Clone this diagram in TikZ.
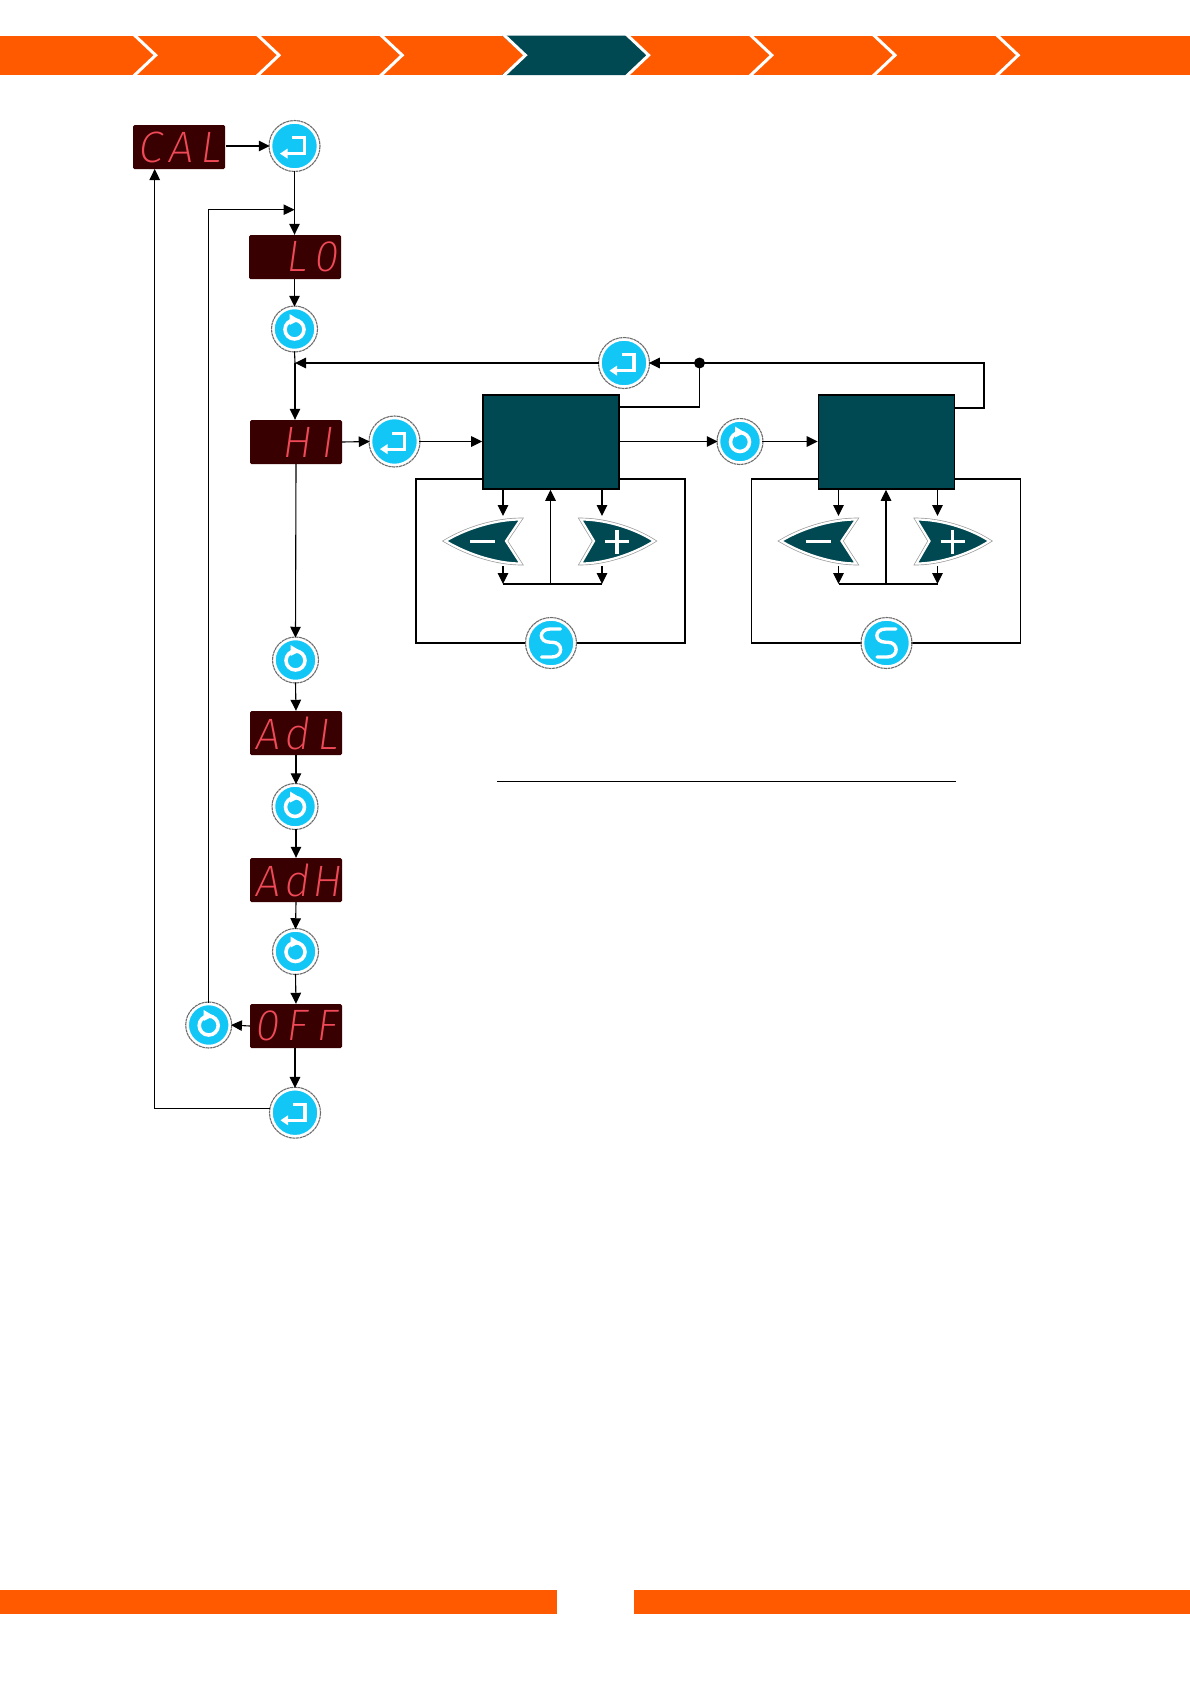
\documentclass[tikz,border=0pt]{standalone}
\usepackage{fontspec}
\usetikzlibrary{arrows.meta}
\newfontfamily\segfont[FakeSlant=0.14]{Fira Sans ExtraLight}
\definecolor{orangeband}{HTML}{FF5A00}
\definecolor{teal}{HTML}{004852}
\definecolor{dispbg}{HTML}{380000}
\definecolor{segred}{HTML}{F04A58}
\definecolor{btn}{HTML}{12C6F6}
\pgfdeclarelayer{back}
\pgfsetlayers{back,main}
\newcommand\slots[3]{\hspace*{1pt}\makebox[30pt]{#1}\makebox[30pt]{#2}\makebox[30pt]{#3}}
\tikzset{
  disp/.style={rectangle,rounded corners=1.5pt,fill=dispbg,minimum width=92pt,minimum height=44pt,inner sep=0pt,text=segred,font=\segfont\fontsize{44}{44}\selectfont},
  flow/.style={line width=1.1pt,-{Triangle[length=11pt,width=10.5pt]}},
  plain/.style={line width=1.1pt},
  btnbase/.style={circle,fill=btn,draw=white,line width=2.5pt,inner sep=0pt},
  enterbtn/.style={btnbase,minimum size=47pt},
  rotbtn/.style={btnbase,minimum size=42pt},
  sbtn/.style={btnbase,minimum size=47pt},
  stagebox/.style={rectangle,fill=teal,draw=black,line width=1.6pt,minimum width=136pt,minimum height=94pt,inner sep=0pt},
  chev/.style={draw=white,line width=3pt},
  ringline/.style={draw=gray!85!black,line width=1.1pt,dash pattern=on 3pt off 0.6pt},
  entericon/.pic={
    \draw[white,line width=3.2pt] (-2.5,-8.3) -- (10,-8.3) -- (10,7.6) -- (-8,7.6);
    \fill[white] (-14.5,7.6) -- (-7,2.6) -- (-7,12.6) -- cycle;
  },
  roticon/.pic={
    \draw[white,line width=3.6pt] (0,0.5) circle[radius=9.5];
    \fill[white] (-5,-15) -- (5,-9) -- (-5,-4) -- cycle;
  },
  sicon/.pic={
    \draw[white,line width=3.4pt,line cap=round] (9.5,-14) -- (-1,-14) .. controls (-12.5,-14) and (-12.5,-0.8) .. (-1,-0.8) -- (1,-0.8) .. controls (12.5,-0.8) and (12.5,14) .. (1,14) -- (-9.5,14);
  }
}
\newcommand\stage[2]{%
\begin{scope}[shift={(#2,0)}]
  \node[stagebox] (b#1) at (551,442) {};
  \node[sbtn] (s#1) at (551,643) {};
  \coordinate (f#1a) at (416,479);
  \coordinate (f#1b) at (685,479);
  \coordinate (mt#1) at (503,516);
  \coordinate (mb#1) at (503,566);
  \coordinate (pt#1) at (602,516);
  \coordinate (pb#1) at (602,566);
  \coordinate (mj#1) at (503,584);
  \coordinate (pj#1) at (602,584);
  \coordinate (cj#1) at (550.5,584);
  \begin{pgfonlayer}{back}
    \draw[plain] (s#1.west) -| (f#1a) -- (f#1b) |- (s#1.east);
  \end{pgfonlayer}
  \foreach \lw/\c in {3.6pt/gray!80,2.2pt/white}{
    \draw[fill=teal,draw=\c,line width=\lw,line join=miter] (445.5,541) .. controls (469,527) and (498,519.5) .. (520.5,519.5) -- (506,541) -- (520.5,563.5) .. controls (498,563.5) and (469,555) .. (445.5,541) -- cycle;
    \draw[fill=teal,draw=\c,line width=\lw,line join=miter] (654,541) .. controls (632,527) and (603,519.5) .. (581,519.5) -- (594,541) -- (581,563.5) .. controls (603,563.5) and (632,555) .. (654,541) -- cycle;
  }
  \draw[white,line width=3.6pt] (470,541.5) -- (495,541.5);
  \draw[white,line width=3.2pt] (605,541.5) -- (629,541.5) (617,529.5) -- (617,553.5);
  \draw[flow] (b#1.south -| mt#1) -- (mt#1);
  \draw[flow] (b#1.south -| pt#1) -- (pt#1);
  \draw[flow] (mb#1) -- (mj#1);
  \draw[flow] (pb#1) -- (pj#1);
  \draw[plain,line width=1.4pt] (mj#1) -- (pj#1);
  \draw[flow] (cj#1) -- (cj#1 |- b#1.south);
  \pic at (s#1) {sicon};
  \draw[ringline] (s#1) circle[radius=25.5];
\end{scope}}
\begin{document}
\begin{tikzpicture}[x=1pt,y=-1pt]
\useasboundingbox (0,0) rectangle (1190,1684);
% top band
\fill[orangeband] (0,35.5) rectangle (1190,75);
\fill[teal] (502,35.5) -- (625.5,35.5) -- (647.5,55.2) -- (625.5,75) -- (502,75) -- (524.5,55.2) -- cycle;
\foreach \t in {155.7,279,402.2,525.4,648.6,771.8,895,1018.2}
  \draw[chev] (\t-22.5,34) -- (\t,55.2) -- (\t-22.5,76.5);
% bottom band
\fill[orangeband] (0,1589.5) rectangle (557,1614);
\fill[orangeband] (634,1589.5) rectangle (1190,1614);
% displays
\node[disp] (cal) at (179,147) {\slots{C}{A}{L}};
\node[disp] (lo) at (295,257) {\slots{}{L}{0}};
\node[disp] (hi) at (296,442) {\slots{}{H}{I}};
\node[disp] (adl) at (296,733) {\slots{A}{d}{L}};
\node[disp] (adh) at (296,880) {\slots{A}{d}{H}};
\node[disp] (off) at (296,1026) {\slots{0}{F}{F}};
% buttons
\node[enterbtn] (e1) at (294.5,146) {};
\node[rotbtn] (r1) at (294.5,329) {};
\node[enterbtn] (e2) at (624,363) {};
\node[enterbtn] (e3) at (394.5,441.5) {};
\node[rotbtn] (r2) at (740,441.5) {};
\node[rotbtn] (r3) at (295.5,660) {};
\node[rotbtn] (r4) at (295,806.5) {};
\node[rotbtn] (r5) at (295.5,951.5) {};
\node[rotbtn] (r6) at (208.7,1025) {};
\node[enterbtn] (e4) at (295,1112.7) {};
\foreach \n in {e1,e2,e3,e4}{
  \pic at (\n) {entericon};
  \draw[ringline] (\n) circle[radius=25.5];
}
\foreach \n in {r1,r2,r3,r4,r5,r6}{
  \pic at (\n) {roticon};
  \draw[ringline] (\n) circle[radius=23];
}
% stages
\stage{1}{0}
\stage{2}{335.5}
% helper points
\coordinate (jt) at (294.5,209.7);
\coordinate (jl) at (208.7,209.7);
\coordinate (jh) at (295,363);
\coordinate (dot) at (699.5,363);
\coordinate (corner) at (984,363);
\coordinate (d1) at (699.5,407);
\coordinate (d2) at (984,408);
\coordinate (ru) at (154.7,1108.7);
\coordinate (calb) at (154.7,169);
% connectors
\draw[flow] (cal.east |- e1) ++(1,0) -- (e1.west);
\draw[flow] (e1.south) -- (lo.north -| e1);
\draw[flow] (r6.north) -- (jl) -- (jt);
\draw[flow] (lo.south -| r1) -- (r1.north);
\draw[plain] (r1.south) -- (jh);
\draw[flow] (jh) -- (hi.north -| jh);
\draw[flow] (e2.west) -- (jh);
\draw[flow] (hi.east) -- (e3.west);
\draw[flow] (e3.east) -- (e3.east -| b1.west);
\draw[flow] (b1.east |- r2) -- (r2.west);
\draw[flow] (r2.east) -- (r2.east -| b2.west);
\draw[flow] (hi.south) -- (r3.north);
\draw[flow] (r3.south) -- (adl.north);
\draw[flow] (adl.south) -- (r4.north -| adl);
\draw[flow] (r4.south -| adh) -- (adh.north);
\draw[flow] (adh.south) -- (r5.north);
\draw[flow] (r5.south) -- (off.north);
\draw[flow] (off.west) -- (r6.east);
\draw[flow] (off.south -| e4) -- (e4.north);
\draw[plain] (e4.west |- ru) -- (ru);
\draw[flow] (ru) -- (calb);
% feedback
\draw[plain] (b1.east |- d1) -- (d1) -- (dot);
\draw[flow] (dot) -- (e2.east);
\draw[plain] (dot) -- (corner) -- (d2) -- (d2 -| b2.east);
\fill (dot) circle[radius=5.5];
% rule
\coordinate (ra) at (497,781);
\coordinate (rb) at (956,781);
\draw[line width=0.9pt] (ra) -- (rb);
\end{tikzpicture}
\end{document}
